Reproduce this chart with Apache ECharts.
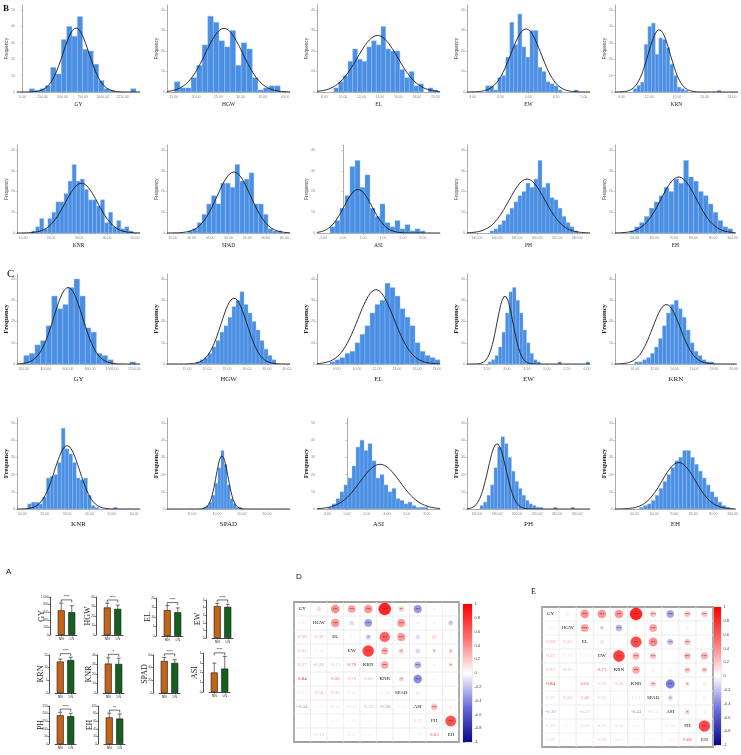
<!DOCTYPE html>
<html><head><meta charset="utf-8">
<script src="https://cdn.jsdelivr.net/npm/echarts@6/dist/echarts.min.js"></script>
<style>html,body{margin:0;padding:0;background:#fff}#c{width:741px;height:755px}</style>
</head><body><div id="c"></div>
<script>
// ================= DATA =================
const traits = ['GY','HGW','EL','EW','KRN','KNR','SPAD','ASI','PH','EH'];

// ---- Panel B histograms (counts per bin) ----
const bCounts = [
  [2,1,2,4,15,11,32,40,34,46,26,25,17,7,2,1,0,0,0,2],
  [5,2,2,7,13,23,37,34,25,22,30,13,24,21,7,1,2,3,3],
  [2,5,8,15,21,16,15,22,25,23,32,21,20,20,11,7,10,3,4,0,2,1],
  [3,3,1,7,8,17,34,23,38,22,17,30,30,12,10,5,4,3,1,0,0,0,1],
  [2,4,6,29,40,42,23,33,32,27,17,10,3,2,1,0,0,0,0,0,0,0,0,1],
  [1,3,7,2,7,10,15,15,19,25,33,25,26,21,16,16,13,16,5,10,3,6,2,3,1],
  [1,2,5,9,14,18,14,24,24,22,33,25,26,29,14,14,9,2,1,1],
  [3,6,12,18,32,35,22,28,12,8,14,5,3,6,2,4,1,2,1],
  [1,2,4,6,9,12,15,18,20,24,22,26,35,22,24,17,16,12,8,5,3,1],
  [1,3,5,8,12,15,18,22,20,26,24,35,27,25,20,18,14,10,6,3,2]
];
const bBinStart = [83, 15.15, 9.02, 3.235, 9.69, 13.03, 39, -1.3, 153, 47.5];
const bBinWidth = [66.7, 1.25, 0.51, 0.0723, 0.53, 1.45, 1.27, 0.5, 4, 2.5];
const bXRange = [[-71,1467],[13.5,41.1],[7.2,20.5],[2.9,5.11],[7.04,24.87],[7.8,51.8],[33.4,66.5],[-2.6,9.7],[130,253],[40,101.5]];
const bTicks = [[0,250,500,750,1000,1250],[15,20,25,30,35,40],[8,10,12,14,16,18,20],[3,3.5,4,4.5,5],[8,12,16,20,24],
  [10,20,30,40,50],[35,40,45,50,55,60,65],[-2,0,2,4,6,8],[140,160,180,200,220,240],[50,60,70,80,90,100]];
const bYTop = [50,40,40,40,50,40,40,40,40,40];
// normal fit: [mean, sd, peak count]
const bFit = [[667,162,39],[26.3,4.2,31],[13.75,2.18,27.6],[3.96,0.27,30.8],[13.45,1.6,38],
  [30.85,5.8,24],[51.4,4.5,29.4],[1.5,1.4,21],[190,18,26],[72.5,9,27]];

// ---- Panel C histograms ----
const cCounts = [
  [4,5,9,11,18,32,26,28,36,40,32,17,15,5,4,2,0,0,0,1],
  [1,2,3,5,8,11,15,18,22,27,30,34,28,24,20,16,11,7,4,2],
  [1,2,3,5,6,10,14,18,24,28,30,38,36,32,26,22,18,10,6,4,3,2],
  [1,2,4,8,15,24,34,36,30,24,16,10,5,2,1,0,0,0,0,0,1,0,0,0,0,0,0,0,1],
  [1,1,2,3,5,8,12,18,24,28,30,26,22,16,10,6,4,2,1,1],
  [3,4,4,3,7,18,19,20,27,47,35,32,27,18,17,18,8,2,1,0,0,0,0,1],
  [1,2,4,8,15,24,34,26,14,6,3,1,1],
  [1,3,6,10,14,18,25,36,40,34,38,28,18,20,14,10,12,6,5,3,4,2,1,1,1],
  [2,4,8,14,24,36,42,38,30,22,16,12,8,5,3,2,1,1,0,0,0,1,0,0,0,0,1],
  [1,2,3,5,8,12,16,20,24,28,30,34,34,30,26,22,18,14,10,7,4,2,1]
];
const cBinStart = [200, 17.25, 7.3, 3.525, 10, 12.4, 34.4, -1.9, 163, 52.5];
const cBinWidth = [50.6, 1, 0.5, 0.0875, 0.4, 1.67, 1.2, 0.4, 3.5, 2];
const cXRange = [[139,1252],[10,40.75],[6,18.3],[3,6.075],[8,20.3],[7.6,62.6],[20,69.2],[-3,9.3],[150,273],[40,101.5]];
const cTicks = [[200,400,600,800,1000,1200],[15,20,25,30,35,40],[8,10,12,14,16,18],[3.5,4,4.5,5,5.5,6],[10,12,14,16,18,20],
  [10,20,30,40,50,60],[30,40,50,60],[-2,0,2,4,6,8],[160,180,200,220,240,260],[50,60,70,80,90,100]];
const cYTop = [40,40,40,40,40,50,50,50,50,50];
const cFit = [[602,131,36],[26.75,3.25,31],[11.9,1.8,35],[3.95,0.2,32],[13.2,1.4,28],
  [30,5.6,36.9],[42,2.4,31],[3.3,2.0,26],[180,9,38],[72.5,8.5,27]];

// ---- Panel A bar charts ----
const aGroups = ['NN','LN'];
const aNN = [650,29,13.6,4.2,12.4,31,50.6,2.0,189,70];
const aLN = [600,27.5,12.5,4.1,13.0,30.6,47.5,2.4,183,67];
const aErrNN = [190,4.5,2.4,0.35,1.0,6,5.5,0.96,20,11];
const aErrLN = [170,4,2.3,0.35,1.1,6,5,1.25,19,12];
const aYMax = [1000,40,20,5,15,40,60,4,250,100];
const aYStep = [200,10,5,1,5,10,20,1,50,20];
const aSig = ['****','****','****','****','****','*','****','****','****','**'];

// ---- Panel D / E correlations (lower triangle rows) ----
const corrD = [[],[0.12],[0.39,0.36],[0.32,-0.11,0.04],[0.37,-0.32,-0.15,0.70],[0.84,0.05,0.56,0.28,0.30],
  [0.17,0.34,0.35,0.15,0.02,0.14],[-0.34,-0.05,-0.11,-0.12,-0.25,-0.38,-0.06],
  [0.05,0.05,0.11,0.10,0.05,0.04,0.02,0.22],[0.03,-0.14,0.04,0.12,0.11,0.02,0.02,0.06,0.63]];
const starsD = [[],[''],['***','***'],['***','',''],['***','***','*','***'],['***','','***','***','***'],
  ['**','***','***','*','','*'],['***','','','','***','***',''],['','','','*','','','','***'],['','*','','*','*','','','','***']];
const corrE = [[],[0.06],[0.38,0.33],[0.37,0.10,0.09],[0.37,-0.23,0.00,0.71],[0.84,0.03,0.65,0.26,0.30],
  [0.20,0.32,0.40,0.20,0.05,0.17],[-0.30,0.02,-0.20,0.01,0.03,-0.43,-0.13],
  [0.20,0.05,0.20,0.23,0.18,0.12,0.00,0.14],[0.20,0.04,0.03,0.26,0.17,0.07,0.06,0.06,0.68]];
const starsE = [[],[''],['***','***'],['***','*',''],['***','***','','***'],['***','','***','***','***'],
  ['***','***','***','***','','**'],['***','','***','','','***','*'],['***','','***','***','**','*','','*'],['***','','','***','**','','','','***']];
const cbTicks = [-1,-0.8,-0.6,-0.4,-0.2,0,0.2,0.4,0.6,0.8,1];

// ================= LAYOUT / STYLE =================
const histCols = [17,167,317,467,615], histW = 123;
const histRows = [{t:10,b:92},{t:150,b:233},{t:279,b:364},{t:423,b:509}];
const barPos = [[50,597,635],[96,597,635],[156,598,636],[206,600,638],[49,655,693],[97,655,693],[153,655,693],[203,653,692],[49,706,744],[98,706,744]];
const SERIF = '"Liberation Serif","DejaVu Serif",serif';
const SANS = '"Liberation Sans","DejaVu Sans",sans-serif';

const option = {animation:false, backgroundColor:'#fff', grid:[], xAxis:[], yAxis:[], series:[], graphic:[]};

function addHist(L, row, name, counts, bStart, bW, xr, ticks, yTop, fit, isC){
  const k = option.grid.length;
  const top = row.t - (row.b-row.t)*0.06;
  option.grid.push({left:L, top:top, width:histW, height:row.b-top});
  option.xAxis.push({type:'value', gridIndex:k, min:xr[0], max:xr[1],
    name:name, nameLocation:'middle', nameGap:isC?12:10, nameMoveOverlap:false,
    nameTextStyle:{fontFamily:SERIF, fontSize:isC?7:5.5, color:'#222'},
    axisLine:{lineStyle:{color:'#888',width:0.7}},
    axisTick:{customValues:ticks, length:1.5, lineStyle:{color:'#888',width:0.5}},
    axisLabel:{customValues:ticks, fontSize:3.5, color:'#888', margin:3, fontFamily:SANS, formatter:v=>Number(v).toFixed(2)},
    splitLine:{show:false}});
  const yt=[]; for(let v=0; v<=yTop; v+=10) yt.push(v);
  option.yAxis.push({type:'value', gridIndex:k, min:0, max:yTop*1.06,
    name:'Frequency', nameLocation:'middle', nameGap:isC?7:8, nameMoveOverlap:false,
    nameTextStyle: isC?{fontFamily:SERIF,fontWeight:'bold',fontSize:6.5,color:'#222'}:{fontFamily:SANS,fontSize:4.5,color:'#444'},
    axisLine:{show:true,lineStyle:{color:'#888',width:0.7}},
    axisTick:{show:true, customValues:yt, length:1.5, lineStyle:{color:'#888',width:0.5}},
    axisLabel:{customValues:yt, fontSize:3.5, color:'#888', margin:2, fontFamily:SANS},
    splitLine:{show:false}});
  const data = [];
  counts.forEach((c,i)=>{ if(c>0) data.push([bStart+i*bW, bStart+(i+1)*bW, c]); });
  option.series.push({type:'custom', xAxisIndex:k, yAxisIndex:k, data:data, encode:{x:[0,1],y:2}, silent:true,
    renderItem:(p,api)=>{
      const a=api.coord([api.value(0),api.value(2)]), b=api.coord([api.value(1),0]);
      return {type:'rect', shape:{x:a[0],y:a[1],width:b[0]-a[0],height:b[1]-a[1]},
        style:{fill:'#4a8fe3', stroke:'#9fc3f0', lineWidth:0.4}};
    }});
  const pts=[]; const n=160;
  for(let i=0;i<=n;i++){ const x=xr[0]+(xr[1]-xr[0])*i/n; pts.push([x, fit[2]*Math.exp(-0.5*Math.pow((x-fit[0])/fit[1],2))]); }
  option.series.push({type:'line', xAxisIndex:k, yAxisIndex:k, data:pts, showSymbol:false, silent:true, z:5,
    lineStyle:{color:'#1a1a1a', width:0.9}});
}

for(let i=0;i<10;i++){
  const r = Math.floor(i/5), c = i%5;
  addHist(histCols[c], histRows[r], traits[i], bCounts[i], bBinStart[i], bBinWidth[i], bXRange[i], bTicks[i], bYTop[i], bFit[i], false);
}
for(let i=0;i<10;i++){
  const r = 2+Math.floor(i/5), c = i%5;
  addHist(histCols[c], histRows[r], traits[i], cCounts[i], cBinStart[i], cBinWidth[i], cXRange[i], cTicks[i], cYTop[i], cFit[i], true);
}

function addBar(i){
  const [ax, top, bottom] = barPos[i];
  const k = option.grid.length;
  option.grid.push({left:ax+6, top:top, width:21, height:bottom-top});
  option.xAxis.push({type:'category', gridIndex:k, data:aGroups,
    axisLine:{lineStyle:{color:'#222',width:0.8}}, axisTick:{show:true, alignWithLabel:true, length:1.5, lineStyle:{width:0.6}},
    axisLabel:{fontSize:3.5, color:'#333', margin:2.5, fontFamily:SANS}});
  option.yAxis.push({type:'value', gridIndex:k, min:0, max:aYMax[i], interval:aYStep[i], offset:6,
    name:traits[i], nameLocation:'middle', nameGap:4, nameMoveOverlap:false,
    nameTextStyle:{fontFamily:SERIF, fontSize:8, color:'#222'},
    axisLine:{show:true, lineStyle:{color:'#222',width:0.8}}, axisTick:{show:true, length:1.5, lineStyle:{width:0.6}},
    axisLabel:{fontSize:3, color:'#333', margin:1.5, fontFamily:SANS}, splitLine:{show:false}});
  option.series.push({type:'bar', xAxisIndex:k, yAxisIndex:k, barWidth:7, silent:true,
    itemStyle:{borderColor:'#111', borderWidth:0.6},
    data:[{value:aNN[i], itemStyle:{color:'#c2641a'}},{value:aLN[i], itemStyle:{color:'#14601e'}}]});
  option.series.push({type:'custom', xAxisIndex:k, yAxisIndex:k, silent:true, encode:{x:0,y:1}, clip:false, z:4,
    data:[[0,aNN[i],aErrNN[i]],[1,aLN[i],aErrLN[i]]],
    renderItem:(p,api)=>{
      const c0=api.coord([api.value(0),api.value(1)]), c1=api.coord([api.value(0),api.value(1)+api.value(2)]);
      const st={stroke:'#111',lineWidth:0.6};
      return {type:'group', children:[
        {type:'line', shape:{x1:c0[0],y1:c0[1],x2:c1[0],y2:c1[1]}, style:st},
        {type:'line', shape:{x1:c1[0]-2,y1:c1[1],x2:c1[0]+2,y2:c1[1]}, style:st}]};
    }});
  const lvl = Math.max(aNN[i]+aErrNN[i], aLN[i]+aErrLN[i])*1.1;
  option.series.push({type:'custom', xAxisIndex:k, yAxisIndex:k, silent:true, encode:{x:0,y:1}, clip:false, z:4,
    data:[[0,lvl]],
    renderItem:(p,api)=>{
      const a=api.coord([0,api.value(1)]), b=api.coord([1,api.value(1)]);
      const st={stroke:'#111',lineWidth:0.6};
      return {type:'group', children:[
        {type:'line', shape:{x1:a[0],y1:a[1],x2:b[0],y2:b[1]}, style:st},
        {type:'line', shape:{x1:a[0],y1:a[1],x2:a[0],y2:a[1]+2.5}, style:st},
        {type:'line', shape:{x1:b[0],y1:b[1],x2:b[0],y2:b[1]+2.5}, style:st},
        {type:'text', x:(a[0]+b[0])/2, y:a[1]-0.5, style:{text:aSig[i], fill:'#111', font:'4px '+SANS, align:'center', verticalAlign:'bottom'}}]};
    }});
}
for(let i=0;i<10;i++) addBar(i);

// colour palette for correlations
const palStops=[[-1,[8,8,140]],[-0.5,[105,105,218]],[0,[255,255,255]],[0.5,[255,112,112]],[1,[255,0,0]]];
function corrColor(r){
  for(let s=0;s<palStops.length-1;s++){
    const [v0,c0]=palStops[s],[v1,c1]=palStops[s+1];
    if(r>=v0 && r<=v1){ const t=(r-v0)/(v1-v0); const c=c0.map((x,q)=>Math.round(x+(c1[q]-x)*t)); return 'rgb('+c.join(',')+')'; }
  }
  return '#fff';
}

function addCorr(box, mat, stars, cb){
  const k = option.grid.length;
  option.grid.push({left:box[0], top:box[1], width:box[2], height:box[3], show:true, borderColor:'#666', borderWidth:1.3, backgroundColor:'#fff'});
  option.xAxis.push({type:'category', gridIndex:k, data:traits, show:false});
  option.yAxis.push({type:'category', gridIndex:k, data:traits, inverse:true, show:false});
  const data=[]; for(let i=0;i<10;i++) for(let j=0;j<10;j++) data.push([j,i]);
  option.series.push({type:'custom', xAxisIndex:k, yAxisIndex:k, data:data, encode:{x:0,y:1}, silent:true,
    renderItem:(p,api)=>{
      const j=api.value(0), i=api.value(1);
      const c=api.coord([j,i]), s=api.size([1,1]);
      const ch=[{type:'rect', shape:{x:c[0]-s[0]/2,y:c[1]-s[1]/2,width:s[0],height:s[1]}, style:{fill:'none',stroke:'#ebebeb',lineWidth:0.5}}];
      if(i===j){
        ch.push({type:'text', x:c[0], y:c[1], style:{text:traits[i], font:'5px '+SERIF, fill:'#111', align:'center', verticalAlign:'middle'}});
      } else if(i>j){
        const r=mat[i][j];
        ch.push({type:'text', x:c[0], y:c[1], style:{text:r.toFixed(2), font:'5px '+SERIF, fill:corrColor(r), align:'center', verticalAlign:'middle'}});
      } else {
        const r=mat[j][i], st=stars[j][i];
        const rad=Math.sqrt(Math.abs(r))*s[1]*0.48;
        ch.push({type:'circle', shape:{cx:c[0],cy:c[1],r:rad}, style:{fill:corrColor(r), stroke:corrColor(r), lineWidth:0.3}});
        if(st) ch.push({type:'text', x:c[0], y:c[1]+0.5, style:{text:st, font:'4px '+SANS, fill:'#333', align:'center', verticalAlign:'middle'}});
      }
      return {type:'group', children:ch};
    }});
  const g = option.grid.length;
  option.grid.push({left:cb[0], top:cb[1], width:cb[2], height:cb[3], show:true, borderColor:'#999', borderWidth:0.4});
  option.xAxis.push({type:'value', gridIndex:g, min:0, max:1, show:false});
  option.yAxis.push({type:'value', gridIndex:g, min:-1, max:1, position:'right',
    axisLine:{show:false}, axisTick:{show:true, customValues:cbTicks, length:2, lineStyle:{color:'#555',width:0.5}},
    axisLabel:{customValues:cbTicks, fontSize:4, color:'#444', margin:2.5, fontFamily:SANS, formatter:v=>String(Math.round(v*10)/10)},
    splitLine:{show:false}});
  const stops = palStops.map(([v,c])=>({offset:(1-v)/2, color:'rgb('+c.join(',')+')'})).reverse();
  option.series.push({type:'custom', xAxisIndex:g, yAxisIndex:g, data:[[0,0]], encode:{x:0,y:1}, silent:true,
    renderItem:(p,api)=>{
      const a=api.coord([0,1]), b=api.coord([1,-1]);
      return {type:'rect', shape:{x:a[0],y:a[1],width:b[0]-a[0],height:b[1]-a[1]},
        style:{fill:new echarts.graphic.LinearGradient(0,0,0,1,stops)}};
    }});
}
addCorr([294,602,165,140], corrD, starsD, [463,604,9,138]);
addCorr([542,607,171,140], corrE, starsE, [714,607,7,138]);

// panel letters
option.graphic = [
  {type:'text', left:3, top:4, style:{text:'B', font:'bold 9px '+SERIF, fill:'#111'}},
  {type:'text', left:7, top:269, style:{text:'C', font:'11px '+SERIF, fill:'#111'}},
  {type:'text', left:6, top:568, style:{text:'A', font:'8px '+SANS, fill:'#111'}},
  {type:'text', left:296, top:573, style:{text:'D', font:'8px '+SANS, fill:'#111'}},
  {type:'text', left:531, top:588, style:{text:'E', font:'8px '+SERIF, fill:'#111'}}
];

const chart = echarts.init(document.getElementById('c'), null, {renderer:'canvas', width:741, height:755});
chart.setOption(option);
</script></body></html>
